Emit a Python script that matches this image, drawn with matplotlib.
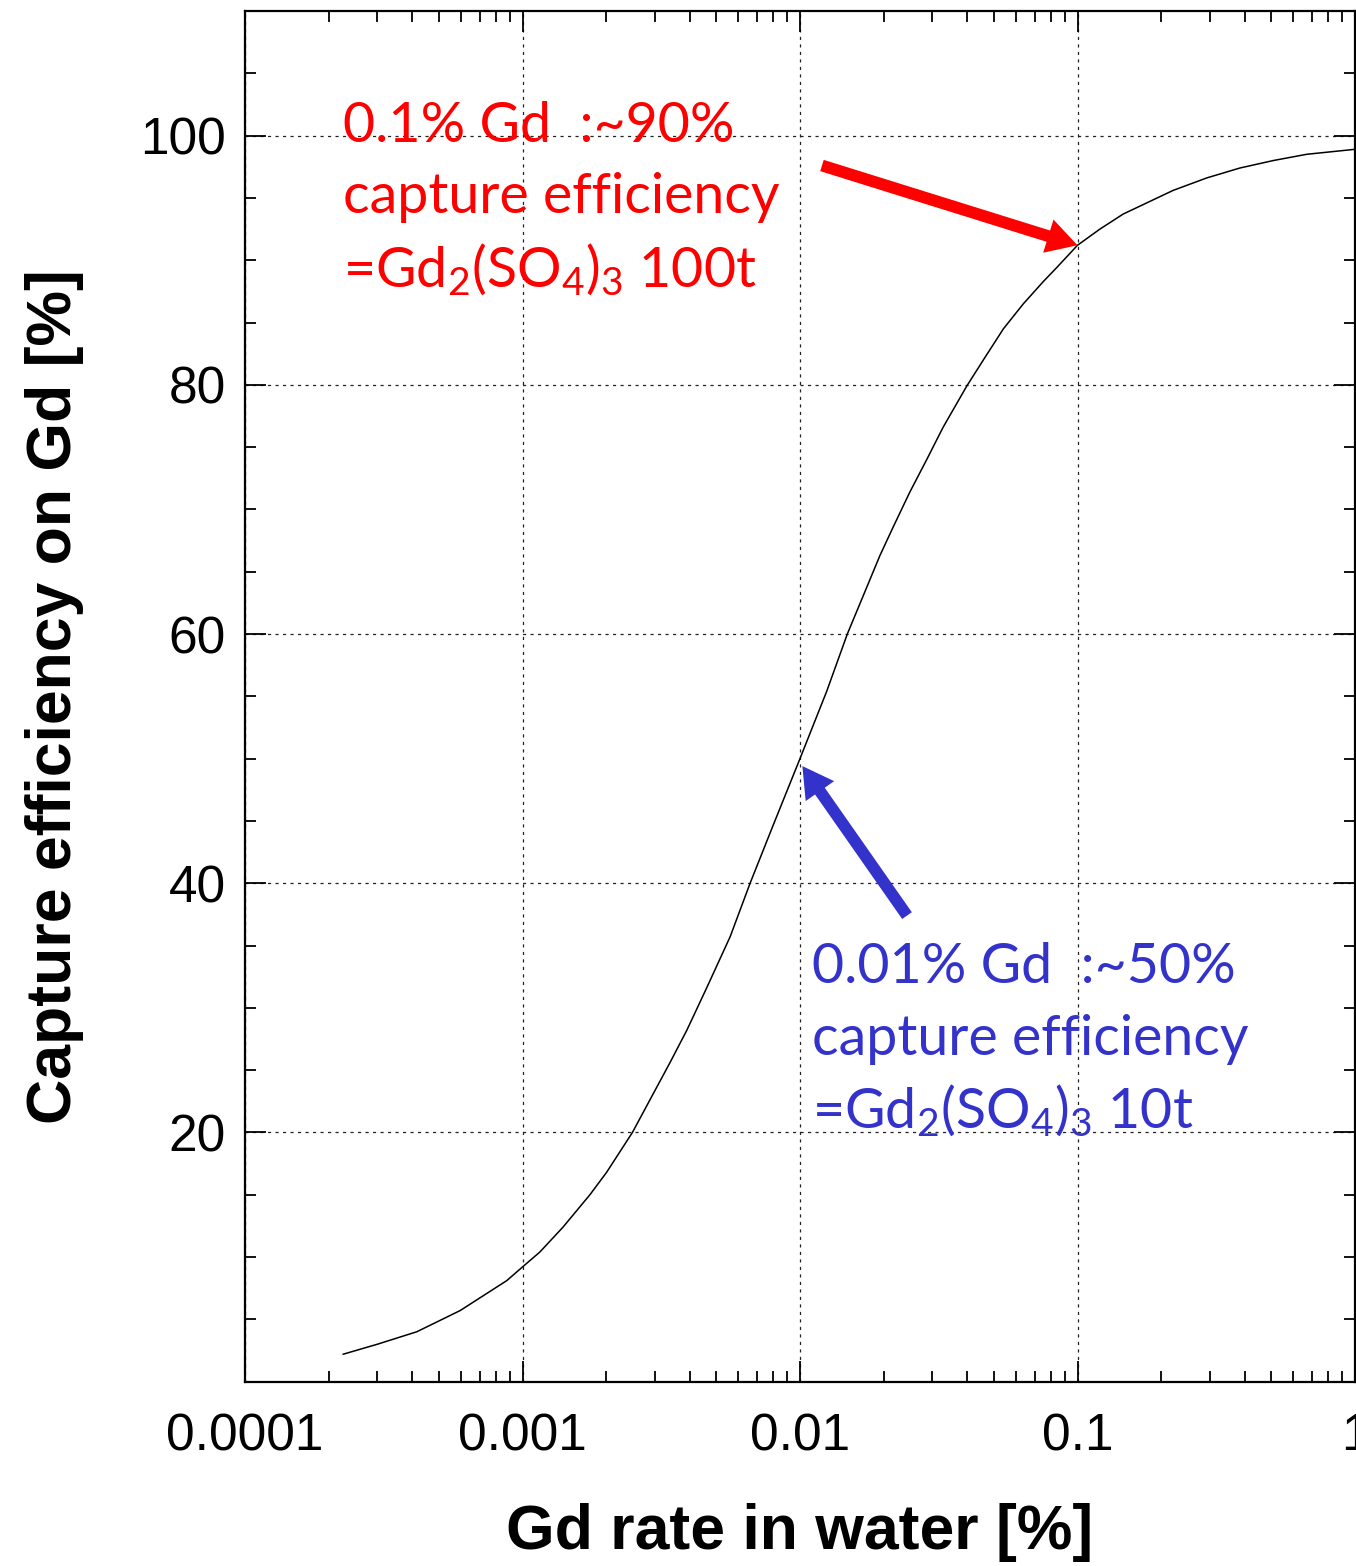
import matplotlib
matplotlib.use("Agg")
import matplotlib.pyplot as plt
from matplotlib.ticker import FixedLocator, LogLocator, NullFormatter, FixedFormatter

# Gd concentration in water [%] and neutron capture efficiency on Gd [%]
gd_rate = [2.26e-4, 3.0e-4, 4.16e-4, 5.96e-4, 8.77e-4, 1.0e-3, 1.155e-3, 1.40e-3,
           1.75e-3, 2.01e-3, 2.49e-3, 3.11e-3, 3.40e-3, 3.91e-3, 4.61e-3, 5.60e-3,
           6.61e-3, 8.02e-3, 1.0e-2, 1.248e-2, 1.481e-2, 1.714e-2, 1.941e-2,
           2.168e-2, 2.489e-2, 2.862e-2, 3.28e-2, 3.99e-2, 4.58e-2, 5.41e-2,
           6.38e-2, 7.54e-2, 8.41e-2, 1.0e-1, 1.205e-1, 1.46e-1, 2.21e-1,
           2.92e-1, 3.85e-1, 5.08e-1, 6.70e-1, 1.0]
capture_eff = [2.2, 3.0, 4.0, 5.7, 8.1, 9.2, 10.4, 12.4,
               15.0, 16.8, 20.0, 24.0, 25.6, 28.2, 31.6, 35.7,
               40.0, 44.7, 50.0, 55.4, 60.0, 63.4, 66.3,
               68.6, 71.4, 74.0, 76.6, 79.9, 82.0, 84.5,
               86.5, 88.3, 89.4, 91.2, 92.5, 93.7, 95.6,
               96.6, 97.4, 98.0, 98.5, 98.9]

x_ticks = [1e-4, 1e-3, 1e-2, 1e-1, 1]
x_tick_labels = ["0.0001", "0.001", "0.01", "0.1", "1"]
y_ticks = [20, 40, 60, 80, 100]
y_tick_labels = ["20", "40", "60", "80", "100"]

red_note = ["0.1% Gd  :~90%", "capture efficiency", r"=Gd$_2$(SO$_4$)$_3$ 100t"]
blue_note = ["0.01% Gd  :~50%", "capture efficiency", r"=Gd$_2$(SO$_4$)$_3$ 10t"]
red_point = (0.1, 91.2)
red_tail = (0.0120, 97.6)
blue_point = (0.0102, 49.4)
blue_tail = (0.0243, 37.4)

W, H = 1356, 1566
fig = plt.figure(figsize=(W / 100, H / 100), dpi=100)
ax = fig.add_axes([245 / W, 1 - 1381.6 / H, (1355 - 245) / W, (1381.6 - 11) / H])

ax.plot(gd_rate, capture_eff, color="black", lw=1.1)

ax.set_xscale("log")
ax.set_xlim(1e-4, 1)
ax.set_ylim(0, 110)

ax.xaxis.set_major_locator(FixedLocator(x_ticks))
ax.xaxis.set_major_formatter(FixedFormatter(x_tick_labels))
ax.xaxis.set_minor_locator(LogLocator(base=10, subs=range(2, 10), numticks=20))
ax.xaxis.set_minor_formatter(NullFormatter())
ax.yaxis.set_major_locator(FixedLocator(y_ticks))
ax.yaxis.set_major_formatter(FixedFormatter(y_tick_labels))
ax.yaxis.set_minor_locator(FixedLocator([v for v in range(5, 110, 5) if v % 20]))

tick_font = "Liberation Sans"
ax.tick_params(which="both", direction="in", top=True, right=True, width=1.3,
               colors="black")
ax.tick_params(which="major", length=15, labelsize=37, pad=14)
ax.tick_params(which="minor", length=8)
for lab in ax.get_xticklabels() + ax.get_yticklabels():
    lab.set_fontfamily(tick_font)
ax.tick_params(axis="x", pad=22)

for s in ax.spines.values():
    s.set_linewidth(1.6)

ax.grid(True, which="major", color="#222222", lw=0.9, linestyle=(0, (2.5, 3.5)))

ax.set_xlabel("Gd rate in water [%]", fontsize=45, fontweight="bold",
              family=tick_font, labelpad=30)
ax.set_ylabel("Capture efficiency on Gd [%]", fontsize=45, fontweight="bold",
              family=tick_font, labelpad=40)

# annotation text, one line per call
plt.rcParams["mathtext.fontset"] = "custom"
plt.rcParams["mathtext.rm"] = "Lato"
plt.rcParams["mathtext.it"] = "Lato:italic"
note_font = dict(family="Lato", fontsize=40)


def put_lines(lines, x_px, baselines_px, color):
    for line, yb in zip(lines, baselines_px):
        fig.text(x_px / W, 1 - yb / H, line, color=color, ha="left",
                 va="baseline", **note_font)


put_lines(red_note, 343, [142, 213, 287], "#FF0000")
put_lines(blue_note, 812, [983, 1055, 1128], "#3333CC")

arrow_style = "simple,head_length=22,head_width=25,tail_width=8.5"
ax.annotate("", xy=red_point, xytext=red_tail,
            arrowprops=dict(arrowstyle=arrow_style, color="#FF0000",
                            mutation_scale=1, shrinkA=0, shrinkB=0, lw=0))
ax.annotate("", xy=blue_point, xytext=blue_tail,
            arrowprops=dict(arrowstyle=arrow_style, color="#3333CC",
                            mutation_scale=1, shrinkA=0, shrinkB=0, lw=0))

fig.savefig("out.png", dpi=100)
